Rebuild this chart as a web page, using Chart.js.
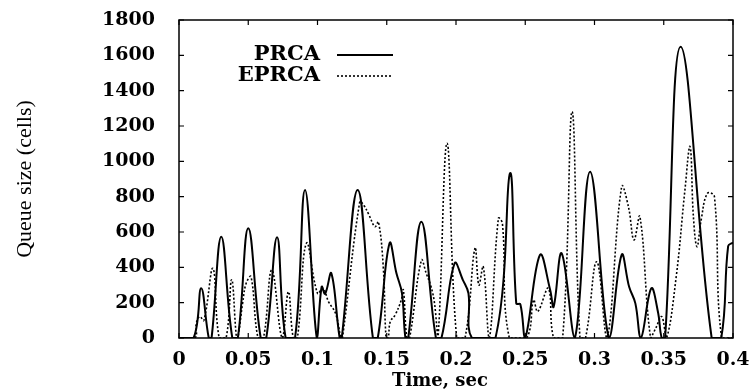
<html>
<head>
  <meta charset="utf-8">
  <title>Queue size, PRCA vs EPRCA</title>
  <script src="https://cdn.jsdelivr.net/npm/chart.js"></script>
  <style>
    body {
      margin: 0;
      background: white;
    }
  </style>
</head>
<body>
<canvas id="queueChart" width="752" height="392"></canvas>

<script>
// values (time in sec, queue size in cells)
const prcaTime = [0, 0.0105, 0.016, 0.0215, 0.0235, 0.0305, 0.0385, 0.0425, 0.05, 0.059, 0.063, 0.0708, 0.077,
  0.0838, 0.091, 0.0995, 0.103, 0.1055, 0.110, 0.116, 0.1175, 0.129, 0.14, 0.1435, 0.152, 0.157, 0.161, 0.1635,
  0.1655, 0.175, 0.1855, 0.1895, 0.199, 0.205, 0.209, 0.2115, 0.2285, 0.239, 0.2435, 0.2465, 0.25, 0.2606, 0.268,
  0.2705, 0.2763, 0.2858, 0.2968, 0.3105, 0.3196, 0.325, 0.3295, 0.3335, 0.341, 0.346, 0.3485, 0.351, 0.3622,
  0.3846, 0.3915, 0.3965, 0.4];
const prcaQueue = [0, 0, 281, 0, 0, 573, 0, 0, 621, 0, 0, 570, 0,
  0, 838, 0, 290, 250, 366, 0, 0, 838, 0, 0, 536, 366, 253, 0,
  0, 658, 0, 0, 423, 328, 253, 0, 0, 932, 196, 190, 0, 470, 272,
  177, 479, 0, 941, 0, 470, 290, 196, 0, 281, 140, 0, 0, 1649,
  0, 0, 520, 540];

const eprcaTime = [0, 0.0115, 0.0125, 0.015, 0.018, 0.0245, 0.029, 0.034, 0.038, 0.0415, 0.0425, 0.046, 0.0485,
  0.052, 0.057, 0.061, 0.067, 0.0745, 0.079, 0.0825, 0.0855, 0.092, 0.1, 0.104, 0.108, 0.113, 0.117, 0.118, 0.1305,
  0.1335, 0.137, 0.1415, 0.144, 0.1475, 0.1495, 0.151, 0.1525, 0.156, 0.1605, 0.162, 0.1645, 0.1665, 0.175, 0.1785,
  0.182, 0.1845, 0.187, 0.1935, 0.2005, 0.2065, 0.2137, 0.2165, 0.2197, 0.224, 0.2306, 0.2335, 0.2385, 0.251,
  0.256, 0.259, 0.2667, 0.2705, 0.277, 0.2838, 0.2895, 0.2935, 0.3016, 0.309, 0.3196, 0.3245, 0.3285, 0.3328,
  0.3405, 0.3445, 0.3485, 0.352, 0.359, 0.3653, 0.369, 0.3714, 0.374, 0.377, 0.3815, 0.3866, 0.3918, 0.4];
const eprcaQueue = [0, 0, 83, 121, 100, 394, 0, 0, 330, 0, 0, 200, 310,
  347, 0, 0, 385, 0, 262, 0, 0, 536, 253, 281, 205, 140, 0, 0, 771,
  750, 700, 630, 658, 400, 0, 0, 92, 130, 215, 272, 0, 0, 440, 366,
  290, 196, 0, 1102, 0, 0, 508, 300, 404, 0, 677, 649, 0, 0,
  215, 150, 281, 0, 0, 1281, 0, 0, 432, 0, 856, 743, 555, 687,
  0, 60, 121, 0, 347, 838, 1083, 687, 517, 668, 819, 800, 0, 0];

const seriesNames = ['PRCA', 'EPRCA'];
const xTicks = { min: 0, max: 0.4, step: 0.05 };
const yTicks = { min: 0, max: 1800, step: 200 };

function toPoints(ts, vs) {
  return ts.map((t, i) => ({ x: t, y: vs[i] }));
}

const serif = "'DejaVu Serif', serif";

// boxed frame with inward ticks on all four sides, gnuplot style
const framePlugin = {
  id: 'frame',
  afterDatasetsDraw(chart) {
    const { ctx, chartArea: a, scales } = chart;
    ctx.save();
    // cover anything the curves pushed below zero
    ctx.fillStyle = '#fff';
    ctx.fillRect(a.left, a.bottom, a.right - a.left, 4);
    ctx.strokeStyle = '#000';
    ctx.lineWidth = 1.5;
    ctx.strokeRect(a.left, a.top, a.right - a.left, a.bottom - a.top);
    ctx.lineWidth = 1.2;
    ctx.beginPath();
    scales.y.ticks.forEach(t => {
      const y = scales.y.getPixelForValue(t.value);
      ctx.moveTo(a.left, y); ctx.lineTo(a.left + 5, y);
      ctx.moveTo(a.right, y); ctx.lineTo(a.right - 5, y);
    });
    scales.x.ticks.forEach(t => {
      const x = scales.x.getPixelForValue(t.value);
      ctx.moveTo(x, a.bottom); ctx.lineTo(x, a.bottom - 5);
      ctx.moveTo(x, a.top); ctx.lineTo(x, a.top + 5);
    });
    ctx.stroke();
    ctx.restore();
  }
};

// key inside the plot (text, then line sample) and the x axis title
const keyPlugin = {
  id: 'key',
  afterDraw(chart) {
    const { ctx } = chart;
    const rows = [
      { label: seriesNames[0], y: 55, dash: [] },
      { label: seriesNames[1], y: 76, dash: [2, 2] }
    ];
    ctx.save();
    ctx.fillStyle = '#000';
    ctx.font = 'bold 21px ' + serif;
    ctx.textBaseline = 'middle';
    ctx.textAlign = 'right';
    rows.forEach(r => {
      ctx.fillText(r.label, 320, r.y);
      ctx.beginPath();
      ctx.setLineDash(r.dash);
      ctx.lineWidth = r.dash.length ? 1.6 : 2;
      ctx.moveTo(337, r.y);
      ctx.lineTo(393, r.y);
      ctx.stroke();
    });
    ctx.setLineDash([]);
    ctx.textAlign = 'center';
    ctx.font = 'bold 18px ' + serif;
    ctx.fillText('Time, sec', 440, 381);
    ctx.restore();
  }
};

new Chart(document.getElementById('queueChart'), {
  type: 'line',
  data: {
    datasets: [{
      label: seriesNames[0],
      data: toPoints(prcaTime, prcaQueue),
      borderColor: '#000',
      borderWidth: 2,
      pointRadius: 0,
      tension: 0.4,
      fill: false
    }, {
      label: seriesNames[1],
      data: toPoints(eprcaTime, eprcaQueue),
      borderColor: '#000',
      borderWidth: 1.6,
      borderDash: [2, 2],
      pointRadius: 0,
      tension: 0.4,
      fill: false
    }]
  },
  options: {
    responsive: false,
    animation: false,
    layout: { padding: { left: 0, right: 19, top: 20, bottom: 0 } },
    plugins: {
      legend: { display: false },
      tooltip: { enabled: false }
    },
    scales: {
      x: {
        type: 'linear',
        min: xTicks.min,
        max: xTicks.max,
        grid: { display: false },
        border: { display: false },
        ticks: {
          stepSize: xTicks.step,
          color: '#000',
          padding: 3,
          maxRotation: 0,
          font: { family: serif, size: 19, weight: 'bold' },
          callback: v => String(+v.toFixed(2))
        },
        afterFit: s => { s.height = 54; s.paddingLeft = 0; s.paddingRight = 0; }
      },
      y: {
        min: yTicks.min,
        max: yTicks.max,
        grid: { display: false },
        border: { display: false },
        ticks: {
          stepSize: yTicks.step,
          color: '#000',
          padding: 16,
          font: { family: serif, size: 19, weight: 'bold' },
          callback: v => String(v)
        },
        title: {
          display: true,
          text: 'Queue size (cells)',
          color: '#000',
          font: { family: "'Liberation Serif', serif", size: 22 },
          padding: { top: 12, bottom: 0 }
        },
        afterFit: s => { s.width = 179; s.paddingTop = 0; s.paddingBottom = 0; }
      }
    }
  },
  plugins: [framePlugin, keyPlugin]
});
</script>
</body>
</html>
